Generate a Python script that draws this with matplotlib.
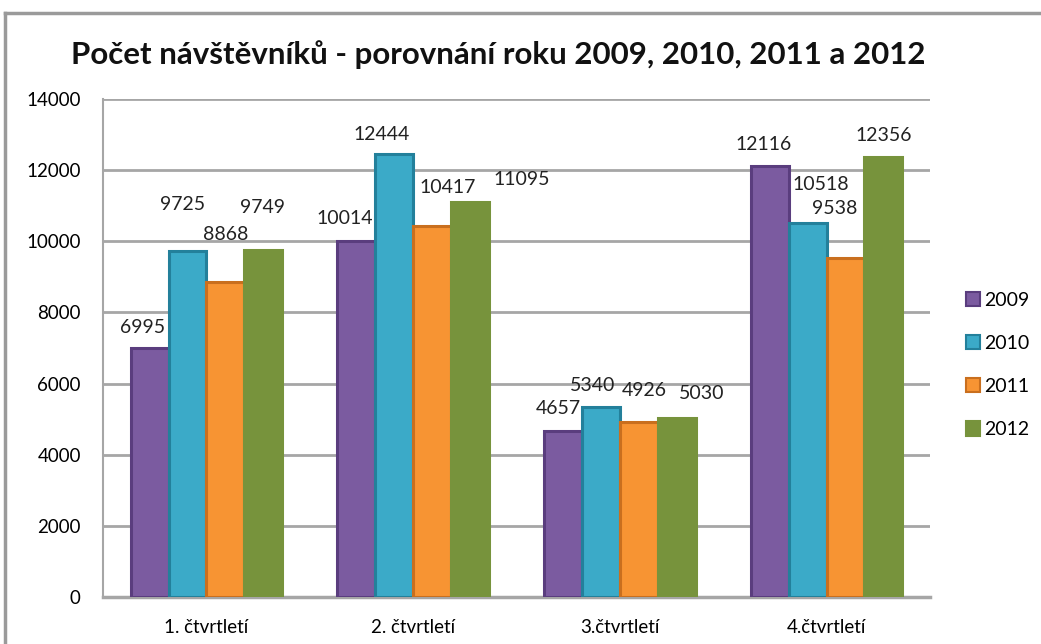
import matplotlib
matplotlib.use("Agg")
import matplotlib.pyplot as plt
import numpy as np
from matplotlib.lines import Line2D
from matplotlib.patches import Patch

categories = ["1. čtvrtletí", "2. čtvrtletí", "3.čtvrtletí", "4.čtvrtletí"]
years = ["2009", "2010", "2011", "2012"]
v2009 = [6995, 10014, 4657, 12116]
v2010 = [9725, 12444, 5340, 10518]
v2011 = [8868, 10417, 4926, 9538]
v2012 = [9749, 11095, 5030, 12356]
series = [v2009, v2010, v2011, v2012]

face = ["#7B5BA0", "#3BAAC8", "#F79433", "#77933C"]
edge = ["#5A3D7E", "#23809B", "#C96F1E", "#77933C"]

# label offsets in pixels (dx, dy) relative to bar top center; [category][series]
offsets = [
    [(-7, 21), (-5, 47), (0, 47), (-1, 43)],
    [(-12, 22), (-13, 20), (16, 39), (52, 23)],
    [(-5, 23), (-8, 22), (5, 31), (25, 25)],
    [(-6, 22), (13, 38), (-11, 49), (0, 22)],
]

plt.rcParams['font.family'] = ['Lato', 'DejaVu Sans']
fig = plt.figure(figsize=(10.41, 6.44), dpi=100)
ax = fig.add_axes([103/1041, 1-597/644, (930-103)/1041, (597-99)/644])

x = np.arange(len(categories))
bw = 0.183
for i, (vals, fc, ec) in enumerate(zip(series, face, edge)):
    pos = x + (i - 1.5) * bw
    ax.bar(pos, vals, width=bw, color=fc, edgecolor=ec, linewidth=2.2, zorder=3)
    for j, (p, v) in enumerate(zip(pos, vals)):
        dx, dy = offsets[j][i]
        ax.annotate(str(v), xy=(p, v), xytext=(dx, dy), textcoords='offset pixels',
                    ha='center', va='center', fontsize=14, color='#222222', zorder=5)

ax.set_ylim(0, 14000)
ax.set_xlim(-0.5, 3.5)
ax.set_yticks(range(0, 14001, 2000))
ax.set_xticks(x)
ax.set_xticklabels(categories, fontsize=13.5)
ax.tick_params(axis='y', labelsize=13.5, length=0, pad=16)
ax.tick_params(axis='x', length=0, pad=16)
ax.yaxis.grid(True, color='#A6A6A6', linewidth=2, zorder=0)
ax.set_axisbelow(True)
for s in ['top', 'right']:
    ax.spines[s].set_visible(False)
ax.spines['left'].set_color('#A6A6A6')
ax.spines['left'].set_linewidth(1.5)
ax.spines['bottom'].set_color('#A6A6A6')
ax.spines['bottom'].set_linewidth(2.5)

fig.text(498/1041, 1-55/644, "Počet návštěvníků - porovnání roku 2009, 2010, 2011 a 2012",
         ha='center', va='center', fontsize=22.5, fontweight='bold', color='#111111')

handles = [Patch(facecolor=fc, edgecolor=ec, linewidth=1.5) for fc, ec in zip(face, edge)]
fig.legend(handles, years, loc='center left', bbox_to_anchor=(948/1041, 1-365/644),
           frameon=False, fontsize=14, handlelength=0.75, handleheight=0.75,
           handletextpad=0.2, labelspacing=1.35)

# outer frame
fig.add_artist(Line2D([5/1041, 1], [1-13/644, 1-13/644], color='#9A9A9A', linewidth=2.5))
fig.add_artist(Line2D([5/1041, 5/1041], [0, 1-13/644], color='#9A9A9A', linewidth=2.5))

fig.savefig("out.png", dpi=100)
